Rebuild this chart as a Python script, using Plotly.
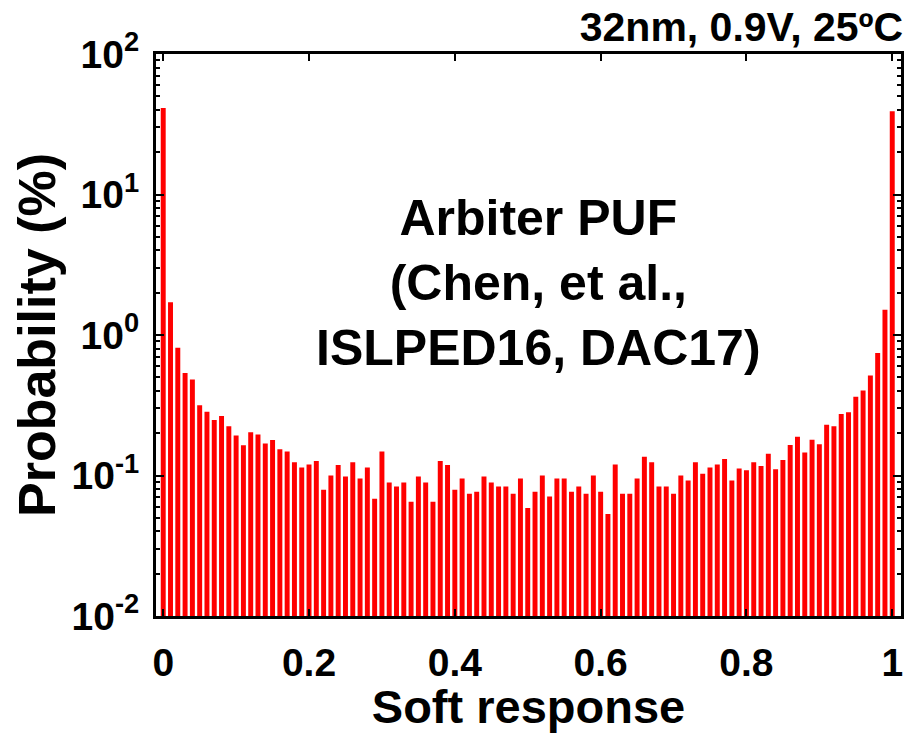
import plotly.graph_objects as go

# Soft response bins (0, 0.01, ..., 1.00)
soft_response = [round(k / 100, 2) for k in range(101)]

# Probability (%) per bin
probability = [
    41.2, 1.71, 0.813, 0.536, 0.482, 0.316, 0.284, 0.248, 0.265, 0.224,
    0.193, 0.164, 0.203, 0.196, 0.169, 0.179, 0.154, 0.148, 0.124, 0.114,
    0.120, 0.127, 0.0791, 0.100, 0.119, 0.0984, 0.124, 0.0953, 0.114, 0.0682,
    0.148, 0.0893, 0.0834, 0.0893, 0.0650, 0.0984, 0.0893, 0.0650, 0.127, 0.119,
    0.0791, 0.0953, 0.0743, 0.0767, 0.0984, 0.0893, 0.0834, 0.0834, 0.0743, 0.0953,
    0.0587, 0.0767, 0.100, 0.0708, 0.0953, 0.0953, 0.0767, 0.0834, 0.0743, 0.100,
    0.0767, 0.0531, 0.120, 0.0743, 0.0743, 0.0953, 0.136, 0.124, 0.0834, 0.0834,
    0.0743, 0.100, 0.0923, 0.124, 0.103, 0.114, 0.120, 0.131, 0.0923, 0.112,
    0.109, 0.124, 0.117, 0.143, 0.111, 0.129, 0.165, 0.189, 0.146, 0.180,
    0.167, 0.230, 0.224, 0.274, 0.282, 0.364, 0.403, 0.515, 0.746, 1.51,
    39.2,
]

x_tickvals = [0, 0.2, 0.4, 0.6, 0.8, 1]
x_ticktext = ["0", "0.2", "0.4", "0.6", "0.8", "1"]
y_tickvals = [0.01, 0.1, 1, 10, 100]
y_ticktext = ["10<sup>-2</sup>", "10<sup>-1</sup>", "10<sup>0</sup>", "10<sup>1</sup>", "10<sup>2</sup>"]

FONT = "Liberation Sans, Arial, sans-serif"

fig = go.Figure()
fig.add_trace(go.Bar(
    x=soft_response,
    y=probability,
    width=0.0068,
    marker=dict(color="#ff0000", line=dict(width=0)),
    showlegend=False,
))

fig.update_layout(
    width=916,
    height=733,
    margin=dict(l=156, r=15, t=54, b=100),
    paper_bgcolor="white",
    plot_bgcolor="white",
    font=dict(family=FONT, color="black", weight="bold"),
    title=dict(
        text="32nm, 0.9V, 25ºC",
        font=dict(family=FONT, size=41, color="black", weight="bold"),
        x=0.986, xref="container", xanchor="right",
        y=0.963, yref="container", yanchor="middle",
    ),
    xaxis=dict(
        range=[-0.0099, 1.012],
        tickvals=x_tickvals,
        ticktext=x_ticktext,
        ticks="inside",
        ticklen=7,
        tickwidth=2,
        tickcolor="black",
        showline=True,
        linewidth=3,
        linecolor="black",
        mirror="allticks",
        showgrid=False,
        zeroline=False,
        tickfont=dict(family=FONT, size=39, color="black", weight="bold"),
        ticklabelstandoff=10,
        title=dict(text="Soft response", font=dict(family=FONT, size=47, color="black", weight="bold"), standoff=4),
    ),
    yaxis=dict(
        type="log",
        range=[-2, 2],
        tickvals=y_tickvals,
        ticktext=y_ticktext,
        ticks="inside",
        ticklen=8,
        tickwidth=2,
        tickcolor="black",
        showline=True,
        linewidth=3,
        linecolor="black",
        mirror="allticks",
        showgrid=False,
        zeroline=False,
        minor=dict(ticks="inside", ticklen=4, tickwidth=2, tickcolor="black", dtick="D1", showgrid=False),
        tickfont=dict(family=FONT, size=39, color="black", weight="bold"),
        ticklabelstandoff=6,
        title=dict(text="Probability (%)", font=dict(family=FONT, size=52, color="black", weight="bold"), standoff=0),
    ),
    annotations=[
        dict(
            text="Arbiter PUF<br>(Chen, et al.,<br>ISLPED16, DAC17)",
            xref="paper", yref="paper",
            x=0.513, y=0.593,
            xanchor="center", yanchor="middle",
            showarrow=False,
            font=dict(family=FONT, size=50, color="black", weight="bold"),
            align="center",
        )
    ],
)

fig.write_html("out.html")
